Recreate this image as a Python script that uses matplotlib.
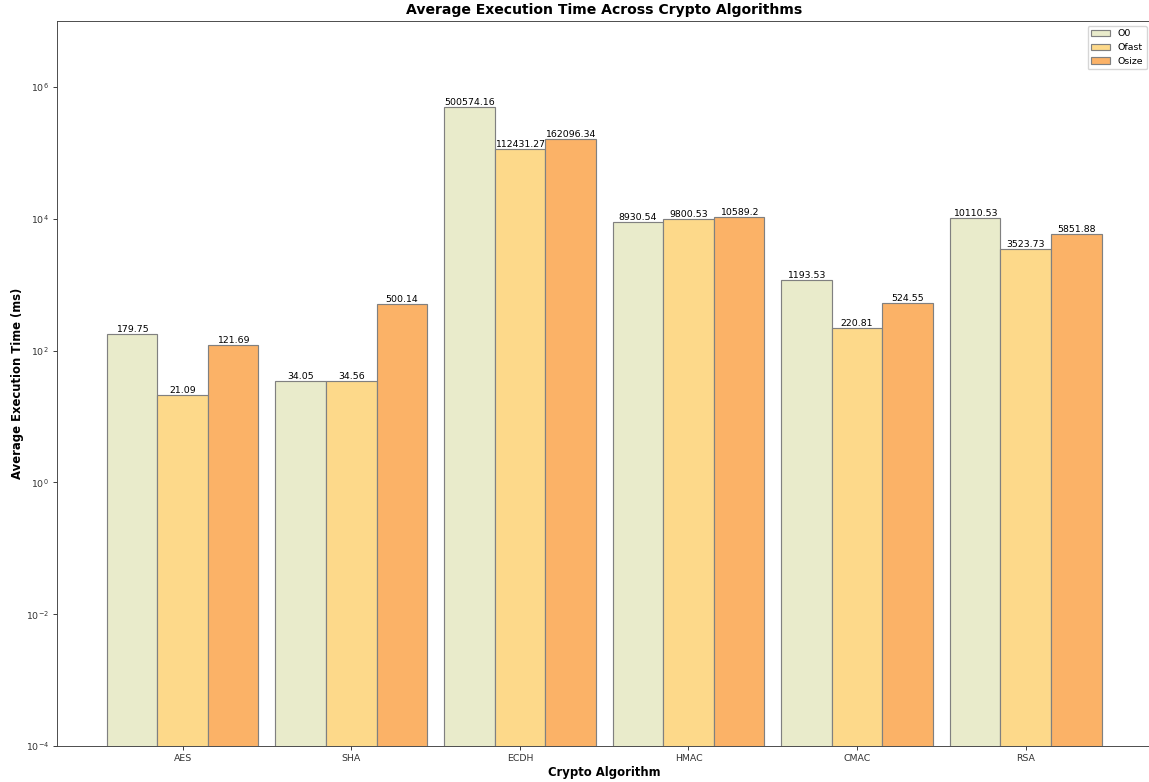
import matplotlib
matplotlib.use("Agg")
import matplotlib.pyplot as plt
import numpy as np

algorithms = ["AES", "SHA", "ECDH", "HMAC", "CMAC", "RSA"]
o0_ms = [179.75, 34.05, 500574.16, 8930.54, 1193.53, 10110.53]
ofast_ms = [21.09, 34.56, 112431.27, 9800.53, 220.81, 3523.73]
osize_ms = [121.69, 500.14, 162096.34, 10589.2, 524.55, 5851.88]

series = [("O0", o0_ms, "#e9ebcb"), ("Ofast", ofast_ms, "#fdd98a"), ("Osize", osize_ms, "#fbb267")]

k = 0.84  # overall scale of text and lines
plt.rcParams.update({
    "axes.linewidth": 0.8 * k,
    "xtick.major.size": 3.5 * k,
    "ytick.major.size": 3.5 * k,
    "xtick.major.width": 0.8 * k,
    "ytick.major.width": 0.8 * k,
    "xtick.major.pad": 3.5 * k,
    "ytick.major.pad": 3.5 * k,
})

fig = plt.figure(figsize=(11.49, 7.82), dpi=100)
ax = fig.add_axes([57 / 1149, 1 - 746 / 782, 1 - 57 / 1149 + 0.002, (746 - 21) / 782])

x = np.arange(len(algorithms))
width = 0.3
for i, (name, vals, color) in enumerate(series):
    bars = ax.bar(x + (i - 1) * width, vals, width, label=name, color=color,
                  edgecolor="grey", linewidth=1.0 * k)
    for b, v in zip(bars, vals):
        ax.text(b.get_x() + b.get_width() / 2, v, str(v),
                ha="center", va="bottom", fontsize=8 * k)

ax.set_yscale("log")
ax.set_ylim(1e-4, 1e7)
ax.set_xticks(x)
ax.set_xticklabels(algorithms)
ax.tick_params(axis="both", labelsize=8 * k, colors="#333333")
ax.yaxis.set_minor_locator(matplotlib.ticker.NullLocator())
for s in ax.spines.values():
    s.set_color("#444444")
ax.set_xlabel("Crypto Algorithm", fontsize=10 * k, fontweight="bold", labelpad=2)
ax.set_ylabel("Average Execution Time (ms)", fontsize=10 * k, fontweight="bold", labelpad=1)
ax.set_title("Average Execution Time Across Crypto Algorithms", fontsize=12 * k,
             fontweight="bold", pad=6 * k)
ax.legend(loc="upper right", fontsize=8 * k)

fig.savefig("out.png", dpi=100)
